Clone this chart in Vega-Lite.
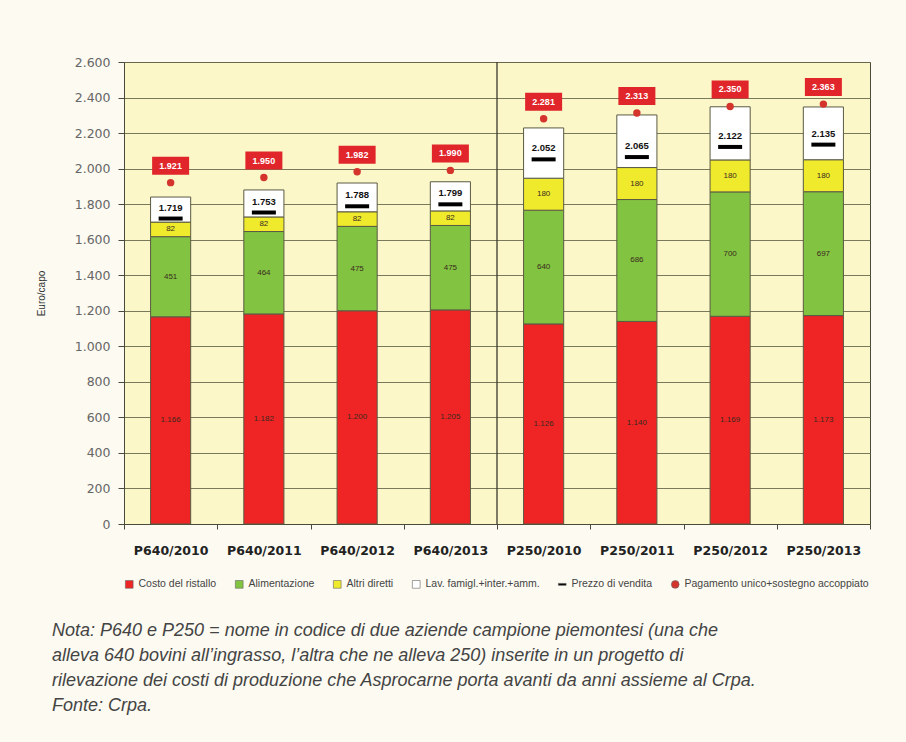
{
  "$schema": "https://vega.github.io/schema/vega-lite/v6.json",
  "width": 746,
  "height": 462,
  "autosize": {"type": "none"},
  "padding": {"left": 124, "top": 62, "right": 36, "bottom": 218},
  "background": "#fcfaf1",
  "config": {
    "font": "Liberation Sans",
    "locale": {"number": {"decimal": ",", "thousands": ".", "grouping": [3], "currency": ["", " €"]}},
    "view": {"fill": "#fbf7c8", "stroke": "#4a4a3a", "strokeWidth": 1},
    "axisX": {
      "labelAngle": 0,
      "labelFont": "DejaVu Sans",
      "labelFontSize": 12.5,
      "labelFontWeight": "bold",
      "labelColor": "#222222",
      "labelPadding": 15,
      "tickBand": "extent",
      "tickSize": 5,
      "tickColor": "#4a4a3a",
      "domainColor": "#4a4a3a",
      "grid": false
    },
    "axisY": {
      "labelOverlap": false,
      "titleFontSize": 10,
      "titleFontWeight": "normal",
      "titleColor": "#333333",
      "titlePadding": 28,
      "labelFont": "DejaVu Sans",
      "labelFontSize": 12.5,
      "labelColor": "#666666",
      "labelPadding": 8,
      "tickSize": 6,
      "tickColor": "#4a4a3a",
      "domainColor": "#4a4a3a",
      "gridColor": "#6a6a50",
      "gridWidth": 1,
      "gridOpacity": 0.9
    }
  },
  "datasets": {
    "seg": [
      {"cat": "P640/2010", "serie": "Costo del ristallo", "k": 1, "v": 1166},
      {"cat": "P640/2010", "serie": "Alimentazione", "k": 2, "v": 451},
      {"cat": "P640/2010", "serie": "Altri diretti", "k": 3, "v": 82},
      {"cat": "P640/2010", "serie": "Lav. famigl.+inter.+amm.", "k": 4, "v": 141},
      {"cat": "P640/2011", "serie": "Costo del ristallo", "k": 1, "v": 1182},
      {"cat": "P640/2011", "serie": "Alimentazione", "k": 2, "v": 464},
      {"cat": "P640/2011", "serie": "Altri diretti", "k": 3, "v": 82},
      {"cat": "P640/2011", "serie": "Lav. famigl.+inter.+amm.", "k": 4, "v": 152},
      {"cat": "P640/2012", "serie": "Costo del ristallo", "k": 1, "v": 1200},
      {"cat": "P640/2012", "serie": "Alimentazione", "k": 2, "v": 475},
      {"cat": "P640/2012", "serie": "Altri diretti", "k": 3, "v": 82},
      {"cat": "P640/2012", "serie": "Lav. famigl.+inter.+amm.", "k": 4, "v": 162},
      {"cat": "P640/2013", "serie": "Costo del ristallo", "k": 1, "v": 1205},
      {"cat": "P640/2013", "serie": "Alimentazione", "k": 2, "v": 475},
      {"cat": "P640/2013", "serie": "Altri diretti", "k": 3, "v": 82},
      {"cat": "P640/2013", "serie": "Lav. famigl.+inter.+amm.", "k": 4, "v": 164},
      {"cat": "P250/2010", "serie": "Costo del ristallo", "k": 1, "v": 1126},
      {"cat": "P250/2010", "serie": "Alimentazione", "k": 2, "v": 640},
      {"cat": "P250/2010", "serie": "Altri diretti", "k": 3, "v": 180},
      {"cat": "P250/2010", "serie": "Lav. famigl.+inter.+amm.", "k": 4, "v": 283},
      {"cat": "P250/2011", "serie": "Costo del ristallo", "k": 1, "v": 1140},
      {"cat": "P250/2011", "serie": "Alimentazione", "k": 2, "v": 686},
      {"cat": "P250/2011", "serie": "Altri diretti", "k": 3, "v": 180},
      {"cat": "P250/2011", "serie": "Lav. famigl.+inter.+amm.", "k": 4, "v": 296},
      {"cat": "P250/2012", "serie": "Costo del ristallo", "k": 1, "v": 1169},
      {"cat": "P250/2012", "serie": "Alimentazione", "k": 2, "v": 700},
      {"cat": "P250/2012", "serie": "Altri diretti", "k": 3, "v": 180},
      {"cat": "P250/2012", "serie": "Lav. famigl.+inter.+amm.", "k": 4, "v": 299},
      {"cat": "P250/2013", "serie": "Costo del ristallo", "k": 1, "v": 1173},
      {"cat": "P250/2013", "serie": "Alimentazione", "k": 2, "v": 697},
      {"cat": "P250/2013", "serie": "Altri diretti", "k": 3, "v": 180},
      {"cat": "P250/2013", "serie": "Lav. famigl.+inter.+amm.", "k": 4, "v": 297}
    ],
    "pt": [
      {"cat": "P640/2010", "serie": "Prezzo di vendita", "v": 1719},
      {"cat": "P640/2011", "serie": "Prezzo di vendita", "v": 1753},
      {"cat": "P640/2012", "serie": "Prezzo di vendita", "v": 1788},
      {"cat": "P640/2013", "serie": "Prezzo di vendita", "v": 1799},
      {"cat": "P250/2010", "serie": "Prezzo di vendita", "v": 2052},
      {"cat": "P250/2011", "serie": "Prezzo di vendita", "v": 2065},
      {"cat": "P250/2012", "serie": "Prezzo di vendita", "v": 2122},
      {"cat": "P250/2013", "serie": "Prezzo di vendita", "v": 2135},
      {"cat": "P640/2010", "serie": "Pagamento unico+sostegno accoppiato", "v": 1921},
      {"cat": "P640/2011", "serie": "Pagamento unico+sostegno accoppiato", "v": 1950},
      {"cat": "P640/2012", "serie": "Pagamento unico+sostegno accoppiato", "v": 1982},
      {"cat": "P640/2013", "serie": "Pagamento unico+sostegno accoppiato", "v": 1990},
      {"cat": "P250/2010", "serie": "Pagamento unico+sostegno accoppiato", "v": 2281},
      {"cat": "P250/2011", "serie": "Pagamento unico+sostegno accoppiato", "v": 2313},
      {"cat": "P250/2012", "serie": "Pagamento unico+sostegno accoppiato", "v": 2350},
      {"cat": "P250/2013", "serie": "Pagamento unico+sostegno accoppiato", "v": 2363}
    ],
    "sep": [{"cat": "P250/2010"}]
  },
  "title": {
    "text": [
      "Nota: P640 e P250 = nome in codice di due aziende campione piemontesi (una che",
      "alleva 640 bovini all’ingrasso, l’altra che ne alleva 250) inserite in un progetto di",
      "rilevazione dei costi di produzione che Asprocarne porta avanti da anni assieme al Crpa.",
      "Fonte: Crpa."
    ],
    "orient": "bottom",
    "anchor": "start",
    "frame": "group",
    "dx": -72,
    "offset": 32,
    "font": "Liberation Sans",
    "fontStyle": "italic",
    "fontWeight": "normal",
    "fontSize": 18,
    "lineHeight": 25,
    "color": "#444444"
  },
  "layer": [
    {
      "data": {"name": "seg"},
      "mark": {"type": "bar", "width": {"band": 0.43}, "stroke": "#5a5a44", "strokeWidth": 1},
      "encoding": {
        "x": {
          "field": "cat", "type": "nominal", "title": null,
          "scale": {"domain": ["P640/2010", "P640/2011", "P640/2012", "P640/2013", "P250/2010", "P250/2011", "P250/2012", "P250/2013"], "paddingInner": 0, "paddingOuter": 0}
        },
        "y": {
          "field": "v", "type": "quantitative", "title": "Euro/capo",
          "scale": {"domain": [0, 2600], "nice": false},
          "axis": {"values": [0, 200, 400, 600, 800, 1000, 1200, 1400, 1600, 1800, 2000, 2200, 2400, 2600], "format": ",d"}
        },
        "color": {
          "field": "serie",
          "type": "nominal",
          "scale": {
            "domain": ["Costo del ristallo", "Alimentazione", "Altri diretti", "Lav. famigl.+inter.+amm.", "Prezzo di vendita", "Pagamento unico+sostegno accoppiato"],
            "range": ["#ef2424", "#82c341", "#efea2c", "#ffffff", "#000000", "#d4342c"]
          },
          "legend": {
            "title": null,
            "orient": "bottom",
            "direction": "horizontal",
            "offset": 22,
            "labelFontSize": 10.5,
            "labelLimit": 400,
            "labelColor": "#444444",
            "symbolSize": 60,
            "symbolStrokeColor": "#666666",
            "symbolStrokeWidth": 0.6,
            "columnPadding": 17
          }
        },
        "order": {"field": "k", "type": "quantitative"}
      }
    },
    {
      "data": {"name": "sep"},
      "mark": {"type": "rule", "color": "#3a3a2e", "strokeWidth": 1.3},
      "encoding": {
        "x": {
          "field": "cat", "type": "nominal", "title": null, "bandPosition": 0,
          "scale": {"domain": ["P640/2010", "P640/2011", "P640/2012", "P640/2013", "P250/2010", "P250/2011", "P250/2012", "P250/2013"], "paddingInner": 0, "paddingOuter": 0}
        }
      }
    },
    {
      "data": {"name": "seg"},
      "transform": [
        {"stack": "v", "groupby": ["cat"], "sort": [{"field": "k", "order": "ascending"}], "as": ["y0", "y1"]},
        {"calculate": "datum.v", "as": "lab"},
        {"calculate": "(datum.y0 + datum.y1) / 2", "as": "v"},
        {"filter": "datum.k < 4"}
      ],
      "mark": {"type": "text", "fontSize": 8, "fill": "#3a2a20", "baseline": "middle"},
      "encoding": {
        "x": {
          "field": "cat", "type": "nominal", "title": null,
          "scale": {"domain": ["P640/2010", "P640/2011", "P640/2012", "P640/2013", "P250/2010", "P250/2011", "P250/2012", "P250/2013"], "paddingInner": 0, "paddingOuter": 0}
        },
        "y": {
          "field": "v", "type": "quantitative", "title": "Euro/capo",
          "scale": {"domain": [0, 2600], "nice": false},
          "axis": {"values": [0, 200, 400, 600, 800, 1000, 1200, 1400, 1600, 1800, 2000, 2200, 2400, 2600], "format": ",d"}
        },
        "text": {"field": "lab", "type": "quantitative", "format": ",d"}
      }
    },
    {
      "data": {"name": "pt"},
      "transform": [{"filter": "datum.serie == 'Prezzo di vendita'"}],
      "mark": {"type": "tick", "thickness": 4, "size": 24, "orient": "horizontal", "opacity": 1},
      "encoding": {
        "x": {
          "field": "cat", "type": "nominal", "title": null,
          "scale": {"domain": ["P640/2010", "P640/2011", "P640/2012", "P640/2013", "P250/2010", "P250/2011", "P250/2012", "P250/2013"], "paddingInner": 0, "paddingOuter": 0}
        },
        "y": {
          "field": "v", "type": "quantitative", "title": "Euro/capo",
          "scale": {"domain": [0, 2600], "nice": false},
          "axis": {"values": [0, 200, 400, 600, 800, 1000, 1200, 1400, 1600, 1800, 2000, 2200, 2400, 2600], "format": ",d"}
        },
        "color": {"field": "serie", "type": "nominal"}
      }
    },
    {
      "data": {"name": "pt"},
      "transform": [{"filter": "datum.serie == 'Prezzo di vendita'"}],
      "mark": {"type": "text", "fontSize": 9.5, "fontWeight": "bold", "fill": "#111111", "dy": -11, "baseline": "middle"},
      "encoding": {
        "x": {
          "field": "cat", "type": "nominal", "title": null,
          "scale": {"domain": ["P640/2010", "P640/2011", "P640/2012", "P640/2013", "P250/2010", "P250/2011", "P250/2012", "P250/2013"], "paddingInner": 0, "paddingOuter": 0}
        },
        "y": {
          "field": "v", "type": "quantitative", "title": "Euro/capo",
          "scale": {"domain": [0, 2600], "nice": false},
          "axis": {"values": [0, 200, 400, 600, 800, 1000, 1200, 1400, 1600, 1800, 2000, 2200, 2400, 2600], "format": ",d"}
        },
        "text": {"field": "v", "type": "quantitative", "format": ",d"}
      }
    },
    {
      "data": {"name": "pt"},
      "transform": [{"filter": "datum.serie == 'Pagamento unico+sostegno accoppiato'"}],
      "mark": {"type": "bar", "width": 37, "yOffset": -26, "y2Offset": -8, "fill": "#e0262a"},
      "encoding": {
        "x": {
          "field": "cat", "type": "nominal", "title": null,
          "scale": {"domain": ["P640/2010", "P640/2011", "P640/2012", "P640/2013", "P250/2010", "P250/2011", "P250/2012", "P250/2013"], "paddingInner": 0, "paddingOuter": 0}
        },
        "y": {
          "field": "v", "type": "quantitative", "title": "Euro/capo",
          "scale": {"domain": [0, 2600], "nice": false},
          "axis": {"values": [0, 200, 400, 600, 800, 1000, 1200, 1400, 1600, 1800, 2000, 2200, 2400, 2600], "format": ",d"}
        },
        "y2": {"field": "v"}
      }
    },
    {
      "data": {"name": "pt"},
      "transform": [{"filter": "datum.serie == 'Pagamento unico+sostegno accoppiato'"}],
      "mark": {"type": "text", "fontSize": 9, "fontWeight": "bold", "fill": "#ffffff", "dy": -17, "baseline": "middle"},
      "encoding": {
        "x": {
          "field": "cat", "type": "nominal", "title": null,
          "scale": {"domain": ["P640/2010", "P640/2011", "P640/2012", "P640/2013", "P250/2010", "P250/2011", "P250/2012", "P250/2013"], "paddingInner": 0, "paddingOuter": 0}
        },
        "y": {
          "field": "v", "type": "quantitative", "title": "Euro/capo",
          "scale": {"domain": [0, 2600], "nice": false},
          "axis": {"values": [0, 200, 400, 600, 800, 1000, 1200, 1400, 1600, 1800, 2000, 2200, 2400, 2600], "format": ",d"}
        },
        "text": {"field": "v", "type": "quantitative", "format": ",d"}
      }
    },
    {
      "data": {"name": "pt"},
      "transform": [{"filter": "datum.serie == 'Pagamento unico+sostegno accoppiato'"}],
      "mark": {"type": "point", "filled": true, "size": 55, "opacity": 1},
      "encoding": {
        "x": {
          "field": "cat", "type": "nominal", "title": null,
          "scale": {"domain": ["P640/2010", "P640/2011", "P640/2012", "P640/2013", "P250/2010", "P250/2011", "P250/2012", "P250/2013"], "paddingInner": 0, "paddingOuter": 0}
        },
        "y": {
          "field": "v", "type": "quantitative", "title": "Euro/capo",
          "scale": {"domain": [0, 2600], "nice": false},
          "axis": {"values": [0, 200, 400, 600, 800, 1000, 1200, 1400, 1600, 1800, 2000, 2200, 2400, 2600], "format": ",d"}
        },
        "color": {"field": "serie", "type": "nominal"},
        "shape": {
          "field": "serie",
          "type": "nominal",
          "scale": {
            "domain": ["Costo del ristallo", "Alimentazione", "Altri diretti", "Lav. famigl.+inter.+amm.", "Prezzo di vendita", "Pagamento unico+sostegno accoppiato"],
            "range": ["square", "square", "square", "square", "M-1,-0.25H1V0.25H-1Z", "circle"]
          }
        }
      }
    }
  ]
}
